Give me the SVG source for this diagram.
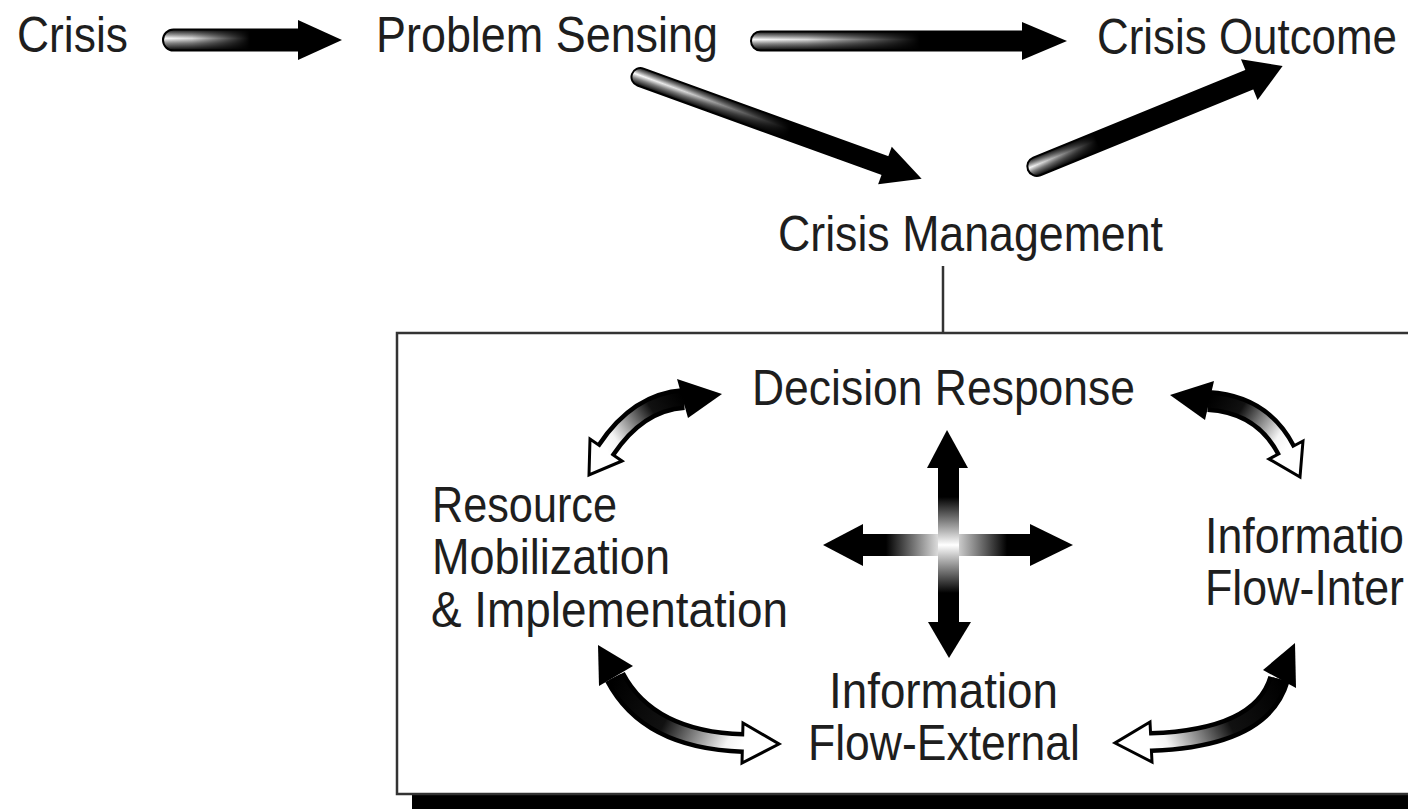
<svg xmlns="http://www.w3.org/2000/svg" width="1408" height="809" viewBox="0 0 1408 809">
<style>
 .t{font-family:"Liberation Sans",Arial,sans-serif;font-size:45px;fill:#1e1e1e;}
 .shaft{fill:url(#cyl);stroke:#000;stroke-width:2}
 .head{fill:#000}
 .whead{fill:#fff;stroke:#000;stroke-width:3;stroke-linejoin:miter}
 .outer{fill:none;stroke:#000;stroke-width:22}
 .inner{fill:none;stroke-width:13}
</style>
<defs>
 <linearGradient id="cyl" x1="0" y1="0" x2="0" y2="1">
  <stop offset="0" stop-color="#111"/><stop offset="0.25" stop-color="#999"/><stop offset="0.42" stop-color="#fff"/><stop offset="0.65" stop-color="#888"/><stop offset="1" stop-color="#000"/>
 </linearGradient>
 <linearGradient id="fade" x1="0" y1="0" x2="1" y2="0">
  <stop offset="0" stop-color="#000" stop-opacity="0"/><stop offset="0.2" stop-color="#000" stop-opacity="0.15"/><stop offset="0.6" stop-color="#000" stop-opacity="1"/><stop offset="1" stop-color="#000" stop-opacity="1"/>
 </linearGradient>
 <linearGradient id="fade2" x1="0" y1="0" x2="1" y2="0">
  <stop offset="0" stop-color="#000" stop-opacity="0"/><stop offset="0.08" stop-color="#000" stop-opacity="0.2"/><stop offset="0.3" stop-color="#000" stop-opacity="1"/><stop offset="1" stop-color="#000" stop-opacity="1"/>
 </linearGradient>
 <linearGradient id="gh" x1="0" y1="0" x2="1" y2="0">
  <stop offset="0" stop-color="#000"/><stop offset="0.15" stop-color="#000"/><stop offset="0.5" stop-color="#fff"/><stop offset="0.85" stop-color="#000"/><stop offset="1" stop-color="#000"/>
 </linearGradient>
 <linearGradient id="gv" x1="0" y1="0" x2="0" y2="1">
  <stop offset="0" stop-color="#000"/><stop offset="0.2" stop-color="#000"/><stop offset="0.5" stop-color="#fff"/><stop offset="0.8" stop-color="#000"/><stop offset="1" stop-color="#000"/>
 </linearGradient>
 <linearGradient id="gA" gradientUnits="userSpaceOnUse" x1="684" y1="399" x2="606" y2="450">
  <stop offset="0" stop-color="#000"/><stop offset="0.35" stop-color="#111"/><stop offset="0.85" stop-color="#f4f4f4"/><stop offset="1" stop-color="#fff"/>
 </linearGradient>
 <linearGradient id="gB" gradientUnits="userSpaceOnUse" x1="1208" y1="401" x2="1286" y2="450">
  <stop offset="0" stop-color="#000"/><stop offset="0.35" stop-color="#111"/><stop offset="0.85" stop-color="#f4f4f4"/><stop offset="1" stop-color="#fff"/>
 </linearGradient>
 <linearGradient id="gC" gradientUnits="userSpaceOnUse" x1="615" y1="677" x2="743" y2="743">
  <stop offset="0" stop-color="#000"/><stop offset="0.45" stop-color="#111"/><stop offset="0.9" stop-color="#f4f4f4"/><stop offset="1" stop-color="#fff"/>
 </linearGradient>
 <linearGradient id="gD" gradientUnits="userSpaceOnUse" x1="1279" y1="679" x2="1151" y2="742">
  <stop offset="0" stop-color="#000"/><stop offset="0.45" stop-color="#111"/><stop offset="0.9" stop-color="#f4f4f4"/><stop offset="1" stop-color="#fff"/>
 </linearGradient>
</defs>

<rect width="1408" height="809" fill="#fff"/>

<g id="box">
 <rect x="412" y="348" width="1100" height="470" fill="#000"/>
 <rect x="397" y="333" width="1100" height="461" fill="#fff" stroke="#333" stroke-width="2.5"/>
</g>

<g id="node-crisis"><text class="t" transform="translate(17,52) scale(1,1.1)" textLength="111" lengthAdjust="spacingAndGlyphs">Crisis</text></g>
<g id="node-problem-sensing"><text class="t" transform="translate(376,52) scale(1,1.1)" textLength="342" lengthAdjust="spacingAndGlyphs">Problem Sensing</text></g>
<g id="node-crisis-outcome"><text class="t" transform="translate(1097,54) scale(1,1.1)" textLength="300" lengthAdjust="spacingAndGlyphs">Crisis Outcome</text></g>
<g id="node-crisis-management"><text class="t" transform="translate(778,251) scale(1,1.1)" textLength="385" lengthAdjust="spacingAndGlyphs">Crisis Management</text></g>
<g id="node-decision-response"><text class="t" transform="translate(752,405) scale(1,1.1)" textLength="383" lengthAdjust="spacingAndGlyphs">Decision Response</text></g>
<g id="node-resource">
 <text class="t" transform="translate(432,522) scale(1,1.1)" textLength="185" lengthAdjust="spacingAndGlyphs">Resource</text>
 <text class="t" transform="translate(432,574) scale(1,1.1)" textLength="238" lengthAdjust="spacingAndGlyphs">Mobilization</text>
 <text class="t" transform="translate(431,627) scale(1,1.1)" textLength="357" lengthAdjust="spacingAndGlyphs">&amp; Implementation</text>
</g>
<g id="node-info-internal">
 <text class="t" transform="translate(1205,553) scale(1,1.1)" textLength="199" lengthAdjust="spacingAndGlyphs">Informatio</text>
 <text class="t" transform="translate(1205,605) scale(1,1.1)" textLength="199" lengthAdjust="spacingAndGlyphs">Flow-Inter</text>
</g>
<g id="node-info-external">
 <text class="t" transform="translate(829,708) scale(1,1.1)" textLength="229" lengthAdjust="spacingAndGlyphs">Information</text>
 <text class="t" transform="translate(808,760) scale(1,1.1)" textLength="272" lengthAdjust="spacingAndGlyphs">Flow-External</text>
</g>

<g id="connectors">
 <line x1="943" y1="266" x2="943" y2="333" stroke="#333" stroke-width="2.5"/>

 <g transform="translate(163,40)">
  <rect class="shaft" x="0" y="-10.5" width="145" height="21" rx="10.5"/>
  <rect x="0" y="-10.5" width="145" height="21" rx="10.5" fill="url(#fade)"/>
  <polygon class="head" points="135,-20 179,0 135,20"/>
 </g>
 <g transform="translate(751,41)">
  <rect class="shaft" x="0" y="-9.5" width="281" height="19" rx="9.5"/>
  <rect x="0" y="-9.5" width="281" height="19" rx="9.5" fill="url(#fade)"/>
  <polygon class="head" points="271,-19 316,0 271,19"/>
 </g>
 <g transform="translate(632,74) rotate(19.9)">
  <rect class="shaft" x="0" y="-9" width="279" height="18" rx="9"/>
  <rect x="0" y="-9" width="279" height="18" rx="9" fill="url(#fade)"/>
  <polygon class="head" points="269,-20 308,0 269,20"/>
 </g>
 <g transform="translate(1028,170) rotate(-22.2)">
  <rect class="shaft" x="0" y="-9.5" width="249" height="19" rx="9.5"/>
  <rect x="0" y="-9.5" width="249" height="19" rx="9.5" fill="url(#fade2)"/>
  <polygon class="head" points="239,-22 275,0 239,22"/>
 </g>

 <rect x="860" y="534" width="173" height="22" fill="url(#gh)"/>
 <rect x="938" y="465" width="21" height="160" fill="url(#gv)"/>
 <polygon class="head" points="823,545 863,524 863,566"/>
 <polygon class="head" points="1073,545 1030,524 1030,566"/>
 <polygon class="head" points="947,430 927,468 968,468"/>
 <polygon class="head" points="949,658 928,622 971,622"/>

 <path class="outer" d="M684 399 Q638 402 606 450"/>
 <path class="outer" d="M1208 401 Q1262 404 1286 450"/>
 <path class="outer" d="M615 677 Q648 740 743 743"/>
 <path class="outer" d="M1279 679 Q1262 738 1151 742"/>

 <polygon class="head" points="722,394 677,379 688,418"/>
 <polygon class="whead" points="622,461 589,475 590,439"/>
 <polygon class="head" points="1170,395 1214,381 1205,420"/>
 <polygon class="whead" points="1303,441 1300,477 1269,459"/>
 <polygon class="head" points="598,645 633,666 599,686"/>
 <polygon class="whead" points="743,723 779,744 742,763"/>
 <polygon class="head" points="1295,643 1263,670 1296,688"/>
 <polygon class="whead" points="1150,722 1115,743 1152,762"/>

 <path class="inner" stroke="url(#gA)" d="M684 399 Q638 402 606 450 L604 453"/>
 <path class="inner" stroke="url(#gB)" d="M1208 401 Q1262 404 1286 450 L1287.5 453"/>
 <path class="inner" stroke="url(#gC)" d="M615 677 Q648 740 743 743 L746 743"/>
 <path class="inner" stroke="url(#gD)" d="M1279 679 Q1262 738 1151 742 L1148 742"/>
</g>
</svg>
